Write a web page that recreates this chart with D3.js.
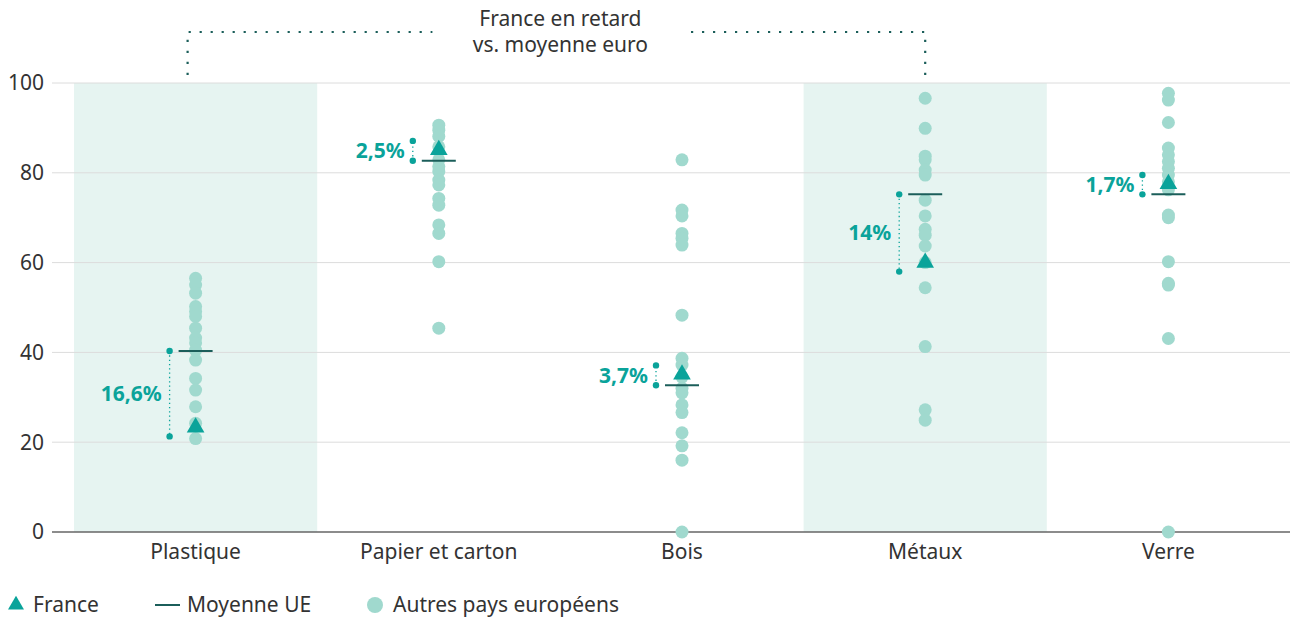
<!DOCTYPE html>
<html>
<head>
<meta charset="utf-8">
<script src="https://cdn.jsdelivr.net/npm/d3@7"></script>
<style>
  body { margin: 0; background: #fff; }
  svg text { font-family: "Noto Sans", "Open Sans", sans-serif; }
</style>
</head>
<body>
<div id="chart"></div>
<script>
var categories = ["Plastique", "Papier et carton", "Bois", "Métaux", "Verre"];

// autres pays européens, par matériau
var plastique = [56.5, 55, 53.2, 50.2, 49.1, 48, 45.4, 43.2, 42.1, 40.5, 38.3, 34.2, 31.6, 27.9, 24.2, 20.8];
var papier = [90.6, 89.5, 88.1, 85.8, 82.9, 81.4, 80.3, 78.4, 77.3, 74.3, 72.8, 68.4, 66.5, 60.2, 45.4];
var bois = [82.9, 71.7, 70.4, 66.5, 65.4, 63.9, 48.3, 38.7, 37.2, 34.5, 32, 31, 28.3, 26.6, 22.1, 19.2, 16, 0];
var metaux = [96.6, 89.9, 83.7, 82.9, 80.6, 79.5, 73.9, 70.4, 67.4, 66.1, 63.7, 60, 54.4, 41.3, 27.2, 24.9];
var verre = [97.7, 96.2, 91.2, 85.5, 84, 82.5, 81, 79.5, 78, 76.2, 70.6, 70, 60.2, 55.4, 55, 43.1, 0];
var others = [plastique, papier, bois, metaux, verre];

var franceValues = [23.3, 85.1, 35.1, 60, 77.5];
var meanValues = [40.3, 82.7, 32.7, 75.2, 75.2];
var gapLabels = ["16,6%", "2,5%", "3,7%", "14%", "1,7%"];
var shaded = ["Plastique", "Métaux"];
var yTicks = [0, 20, 40, 60, 80, 100];
var bracketText = ["France en retard", "vs. moyenne euro"];
var legendItems = ["France", "Moyenne UE", "Autres pays européens"];

var W = 1290, H = 617, FS = 21;
var teal = "#0aa39a", dark = "#1b5e5a", light = "#a0d9ce", band = "#e6f4f1";

var svg = d3.select("#chart").append("svg")
    .attr("width", W).attr("height", H);

var x = d3.scaleBand().domain(categories).range([74, 1290]).padding(0);
var y = d3.scaleLinear().domain([0, 100]).range([532, 83]);
var cx = function(c) { return x(c) + x.bandwidth() / 2; };

// fonds
svg.append("g").selectAll("rect")
    .data(shaded)
    .enter().append("rect")
    .attr("x", function(d) { return x(d); })
    .attr("y", y(100))
    .attr("width", x.bandwidth())
    .attr("height", y(0) - y(100))
    .attr("fill", band);

// grille
var grid = svg.append("g");
grid.selectAll("line")
    .data(yTicks)
    .enter().append("line")
    .attr("x1", 52).attr("x2", W)
    .attr("y1", function(d) { return y(d); })
    .attr("y2", function(d) { return y(d); })
    .attr("stroke", function(d) { return d === 0 ? "#666" : "#dcdcdc"; })
    .attr("stroke-width", function(d) { return d === 0 ? 1.3 : 1; });

grid.selectAll("text")
    .data(yTicks)
    .enter().append("text")
    .attr("x", 44)
    .attr("y", function(d) { return y(d); })
    .attr("dy", ".35em")
    .attr("text-anchor", "end")
    .attr("font-size", FS)
    .attr("fill", "#333")
    .text(function(d) { return d; });

// catégories
svg.append("g").selectAll("text")
    .data(categories)
    .enter().append("text")
    .attr("x", cx)
    .attr("y", 559)
    .attr("text-anchor", "middle")
    .attr("font-size", FS)
    .attr("fill", "#333")
    .text(function(d) { return d; });

// points des autres pays
var pts = [];
categories.forEach(function(c, i) {
  others[i].forEach(function(v) { pts.push({ cat: c, v: v }); });
});
svg.append("g").selectAll("circle")
    .data(pts)
    .enter().append("circle")
    .attr("cx", function(d) { return cx(d.cat); })
    .attr("cy", function(d) { return y(d.v); })
    .attr("r", 6.5)
    .attr("fill", light);

// moyenne UE
svg.append("g").selectAll("line")
    .data(categories)
    .enter().append("line")
    .attr("x1", function(d) { return cx(d) - 17; })
    .attr("x2", function(d) { return cx(d) + 17; })
    .attr("y1", function(d, i) { return y(meanValues[i]); })
    .attr("y2", function(d, i) { return y(meanValues[i]); })
    .attr("stroke", dark)
    .attr("stroke-width", 2);

// France
var tri = d3.symbol().type(d3.symbolTriangle).size(135);
svg.append("g").selectAll("path")
    .data(categories)
    .enter().append("path")
    .attr("d", tri)
    .attr("transform", function(d, i) { return "translate(" + cx(d) + "," + y(franceValues[i]) + ")"; })
    .attr("fill", teal);

// écarts
var gaps = categories.map(function(c, i) {
  var ym = y(meanValues[i]), yf = y(franceValues[i]);
  var yEnd = yf > ym ? yf + 9 : yf - 9;
  return { x: cx(c) - 26, y1: ym, y2: yEnd, label: gapLabels[i] };
});
var gg = svg.append("g").selectAll("g")
    .data(gaps)
    .enter().append("g");
gg.append("line")
    .attr("x1", function(d) { return d.x; })
    .attr("x2", function(d) { return d.x; })
    .attr("y1", function(d) { return d.y1; })
    .attr("y2", function(d) { return d.y2; })
    .attr("stroke", teal)
    .attr("stroke-width", 1.3)
    .attr("stroke-dasharray", "1.3 3");
gg.selectAll("circle")
    .data(function(d) { return [{ x: d.x, y: d.y1 }, { x: d.x, y: d.y2 }]; })
    .enter().append("circle")
    .attr("cx", function(d) { return d.x; })
    .attr("cy", function(d) { return d.y; })
    .attr("r", 3.2)
    .attr("fill", teal);
gg.append("text")
    .attr("x", function(d) { return d.x - 8; })
    .attr("y", function(d) { return (d.y1 + d.y2) / 2; })
    .attr("dy", ".35em")
    .attr("text-anchor", "end")
    .attr("font-size", FS)
    .attr("font-weight", "bold")
    .attr("fill", teal)
    .text(function(d) { return d.label; });

// accolade du haut
var bx1 = cx("Plastique") - 8, bx2 = cx("Métaux"), by = 32, midX = (cx("Plastique") + bx2) / 2;
var bracket = svg.append("g")
    .attr("fill", "none")
    .attr("stroke", dark)
    .attr("stroke-width", 2.2)
    .attr("stroke-dasharray", "2.2 8.8");
bracket.append("path")
    .attr("d", "M" + bx1 + "," + 75 + "V" + by + "H" + (midX - 128));
bracket.append("path")
    .attr("d", "M" + bx2 + "," + 75 + "V" + by + "H" + (midX + 124));
svg.append("g").selectAll("text")
    .data(bracketText)
    .enter().append("text")
    .attr("x", midX)
    .attr("y", function(d, i) { return 26 + i * 26; })
    .attr("text-anchor", "middle")
    .attr("font-size", FS)
    .attr("fill", "#333")
    .text(function(d) { return d; });

// légende
var lg = svg.append("g").attr("transform", "translate(0,605)");
lg.append("path")
    .attr("d", d3.symbol().type(d3.symbolTriangle).size(110))
    .attr("transform", "translate(16,0)")
    .attr("fill", teal);
lg.append("line")
    .attr("x1", 155).attr("x2", 180)
    .attr("stroke", dark).attr("stroke-width", 2);
lg.append("circle")
    .attr("cx", 375).attr("r", 8)
    .attr("fill", light);
lg.selectAll("text")
    .data(legendItems)
    .enter().append("text")
    .attr("x", function(d, i) { return [33, 187, 393][i]; })
    .attr("dy", ".35em")
    .attr("font-size", FS)
    .attr("fill", "#333")
    .text(function(d) { return d; });
</script>
</body>
</html>
